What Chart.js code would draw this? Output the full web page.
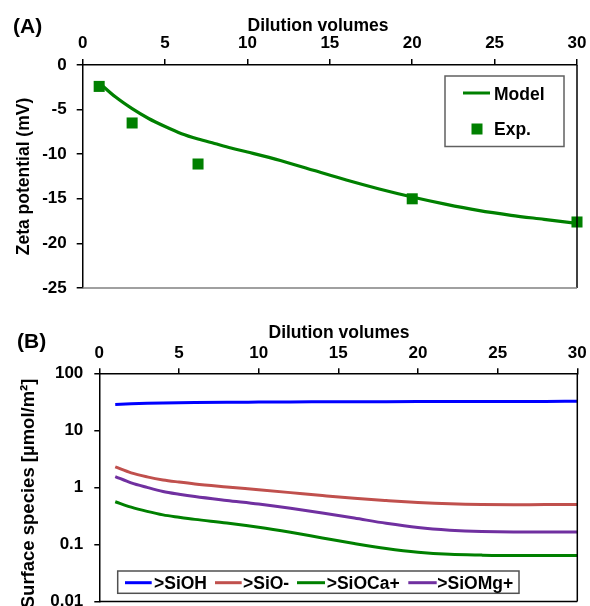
<!DOCTYPE html>
<html><head><meta charset="utf-8">
<script src="https://cdn.jsdelivr.net/npm/chart.js@4.4.0/dist/chart.umd.min.js"></script>
<style>
html,body{margin:0;padding:0;background:#fff;width:590px;height:606px;overflow:hidden}
canvas{position:absolute;left:0}
#cA{top:0}
#cB{top:300px}
</style></head><body>
<canvas id="cA" width="590" height="300"></canvas>
<canvas id="cB" width="590" height="306"></canvas>
<script>
// ---------- Panel A data ----------
const dilutionModel = [1,2,3,4,5,6,7,8,9,10,12,14,16,18,20,22,24,26,28,30];
const zetaModel = [-2.0,-3.6,-4.9,-6.0,-6.9,-7.7,-8.3,-8.8,-9.3,-9.75,-10.7,-11.8,-12.9,-13.9,-14.8,-15.6,-16.3,-16.85,-17.3,-17.75];
const dilutionExp = [1,3,7,20,30];
const zetaExp = [-2.4,-6.5,-11.1,-15.0,-17.6];
const dilutionTicks = [0,5,10,15,20,25,30];
const zetaTicks = [0,-5,-10,-15,-20,-25];

// ---------- Panel B data ----------
const dilutionSpecies = [1,2,3,4,5,6,8,10,12,14,16,18,20,22,24,26,28,30];
const siOH  = [28.5,29.3,29.9,30.3,30.6,30.8,31.1,31.3,31.5,31.6,31.7,31.8,31.9,32.0,32.1,32.2,32.2,32.3];
const siO   = [2.29,1.8,1.53,1.35,1.24,1.15,1.02,0.91,0.81,0.72,0.645,0.59,0.545,0.515,0.50,0.497,0.50,0.50];
const siOCa = [0.56,0.45,0.38,0.33,0.30,0.275,0.238,0.20,0.163,0.13,0.104,0.085,0.073,0.067,0.065,0.064,0.064,0.064];
const siOMg = [1.55,1.2,1.0,0.85,0.76,0.69,0.59,0.51,0.43,0.355,0.29,0.235,0.198,0.178,0.168,0.165,0.165,0.165];
const speciesTicks = [0.01,0.1,1,10,100];
const speciesTickLabels = ['0.01','0.1','1','10','100'];
const speciesNames = ['>SiOH','>SiO-','>SiOCa+','>SiOMg+'];

const FONT = "'Liberation Sans', Arial, sans-serif";
const GREEN = '#008000', BLUE = '#0000FF', RED = '#C0504D', PURPLE = '#7030A0';

function pts(xs, ys){ return xs.map((x,i)=>({x:x, y:ys[i]})); }
const tickFont = {family: FONT, size: 17, weight: 'bold'};

function frameAndText(chart, opts){
  const ctx = chart.ctx, a = chart.chartArea;
  ctx.save();
  ctx.lineWidth = 1.5;
  ctx.strokeStyle = '#000';
  ctx.beginPath(); ctx.moveTo(a.right, a.top); ctx.lineTo(a.right, a.bottom); ctx.stroke();
  ctx.strokeStyle = opts.bottomColor;
  ctx.beginPath(); ctx.moveTo(a.left, a.bottom); ctx.lineTo(a.right, a.bottom); ctx.stroke();
  ctx.fillStyle = '#000';
  ctx.textBaseline = 'alphabetic';
  ctx.textAlign = 'left';
  ctx.font = 'bold 21px ' + FONT;
  ctx.fillText(opts.panel, opts.panelX, opts.panelY);
  ctx.textAlign = 'center';
  ctx.font = 'bold 17.5px ' + FONT;
  ctx.fillText('Dilution volumes', opts.titleX, opts.titleY);
  ctx.font = 'bold ' + opts.yTitleSize + 'px ' + FONT;
  ctx.translate(opts.yTitleX, (a.top + a.bottom) / 2 + opts.yTitleShift);
  ctx.rotate(-Math.PI / 2);
  ctx.fillText(opts.yTitle, 0, 0);
  ctx.restore();
}

// ---------------- Chart A ----------------
const plugA = {
  id: 'plugA',
  afterDraw(chart){
    frameAndText(chart, {bottomColor:'#808080', panel:'(A)', panelX:13, panelY:33,
      titleX:318, titleY:31, yTitleX:28.5, yTitleShift:0, yTitleSize:17.5, yTitle:'Zeta potential (mV)'});
    const ctx = chart.ctx;
    ctx.save();
    ctx.fillStyle = '#fff';
    ctx.strokeStyle = '#606060';
    ctx.lineWidth = 1.5;
    ctx.fillRect(445, 76, 119, 70.5);
    ctx.strokeRect(445, 76, 119, 70.5);
    ctx.strokeStyle = GREEN; ctx.lineWidth = 3;
    ctx.beginPath(); ctx.moveTo(463, 93); ctx.lineTo(490, 93); ctx.stroke();
    ctx.fillStyle = GREEN;
    ctx.fillRect(471.5, 123.5, 11, 11);
    ctx.fillStyle = '#000';
    ctx.font = 'bold 17.5px ' + FONT;
    ctx.textAlign = 'left'; ctx.textBaseline = 'alphabetic';
    ctx.fillText('Model', 494, 99.5);
    ctx.fillText('Exp.', 494, 135);
    ctx.restore();
  }
};

new Chart(document.getElementById('cA'), {
  type: 'line',
  data: {
    datasets: [
      {label:'Exp.', data: pts(dilutionExp, zetaExp), showLine:false, pointStyle:'rect',
       pointRadius:7.8, pointHoverRadius:7.8, backgroundColor:GREEN, borderColor:GREEN, borderWidth:0, order:0, clip:false},
      {label:'Model', data: pts(dilutionModel, zetaModel), borderColor:GREEN, borderWidth:3.2,
       pointRadius:0, cubicInterpolationMode:'monotone', fill:false, order:1}
    ]
  },
  options: {
    responsive:false, animation:false, devicePixelRatio:1,
    layout:{padding:{left:0, top:0, right:13, bottom:12}},
    plugins:{legend:{display:false}, tooltip:{enabled:false}},
    scales:{
      x:{type:'linear', position:'top', min:0, max:30,
        afterBuildTicks(s){ s.ticks = dilutionTicks.map(v=>({value:v})); },
        ticks:{color:'#000', font:tickFont, padding:5.8, maxRotation:0},
        grid:{drawOnChartArea:false, drawTicks:true, tickLength:6, color:'#000', lineWidth:1.5},
        border:{display:true, color:'#000', width:1.5},
        afterFit(s){ s.height = 65; s.paddingLeft = 0; s.paddingRight = 0; }
      },
      y:{type:'linear', position:'left', min:-25, max:0,
        afterBuildTicks(s){ s.ticks = zetaTicks.map(v=>({value:v})); },
        ticks:{color:'#000', font:tickFont, padding:10},
        grid:{drawOnChartArea:false, drawTicks:true, tickLength:6, color:'#000', lineWidth:1.5},
        border:{display:true, color:'#000', width:1.5},
        afterFit(s){ s.width = 82.7; s.paddingTop = 0; s.paddingBottom = 0; }
      }
    }
  },
  plugins:[plugA]
});

// ---------------- Chart B ----------------
const colorsB = [BLUE, RED, GREEN, PURPLE];
const legendB = [[125,151.7,154],[215,241.7,243],[297,325,326.7],[408.3,436.7,437.3]];
const plugB = {
  id: 'plugB',
  afterDraw(chart){
    frameAndText(chart, {bottomColor:'#000', panel:'(B)', panelX:17, panelY:48,
      titleX:339, titleY:38, yTitleX:33.5, yTitleShift:6, yTitleSize:18.5, yTitle:'Surface species [µmol/m²]'});
    const ctx = chart.ctx;
    ctx.save();
    ctx.fillStyle = '#fff';
    ctx.strokeStyle = '#505050';
    ctx.lineWidth = 1.5;
    ctx.fillRect(117.7, 271, 401.3, 22.3);
    ctx.strokeRect(117.7, 271, 401.3, 22.3);
    ctx.font = 'bold 17.5px ' + FONT;
    ctx.textAlign = 'left'; ctx.textBaseline = 'alphabetic';
    legendB.forEach((L, i) => {
      ctx.strokeStyle = colorsB[i]; ctx.lineWidth = 3;
      ctx.beginPath(); ctx.moveTo(L[0], 282.7); ctx.lineTo(L[1], 282.7); ctx.stroke();
      ctx.fillStyle = '#000';
      ctx.fillText(speciesNames[i], L[2], 288.5);
    });
    ctx.restore();
  }
};

const seriesB = [siOH, siO, siOCa, siOMg];
new Chart(document.getElementById('cB'), {
  type: 'line',
  data: {
    datasets: seriesB.map((s, i) => ({
      label: speciesNames[i], data: pts(dilutionSpecies, s), borderColor: colorsB[i],
      borderWidth: 3, pointRadius: 0, cubicInterpolationMode: 'monotone', fill: false
    }))
  },
  options: {
    responsive:false, animation:false, devicePixelRatio:1,
    layout:{padding:{left:0, top:0, right:12.7, bottom:4.5}},
    plugins:{legend:{display:false}, tooltip:{enabled:false}},
    scales:{
      x:{type:'linear', position:'top', min:0, max:30,
        afterBuildTicks(s){ s.ticks = dilutionTicks.map(v=>({value:v})); },
        ticks:{color:'#000', font:tickFont, padding:4.8, maxRotation:0},
        grid:{drawOnChartArea:false, drawTicks:true, tickLength:5, color:'#000', lineWidth:1.5},
        border:{display:true, color:'#000', width:1.5},
        afterFit(s){ s.height = 73.3; s.paddingLeft = 0; s.paddingRight = 0; }
      },
      y:{type:'logarithmic', position:'left', min:0.01, max:100,
        afterBuildTicks(s){ s.ticks = speciesTicks.map(v=>({value:v})); },
        ticks:{color:'#000', font:tickFont, padding:11,
          callback(v, i){ return speciesTickLabels[speciesTicks.indexOf(v)] ?? ''; }},
        grid:{drawOnChartArea:false, drawTicks:true, tickLength:5, color:'#000', lineWidth:1.5},
        border:{display:true, color:'#000', width:1.5},
        afterFit(s){ s.width = 99.3; s.paddingTop = 0; s.paddingBottom = 0; }
      }
    }
  },
  plugins:[plugB]
});
</script>
</body></html>
